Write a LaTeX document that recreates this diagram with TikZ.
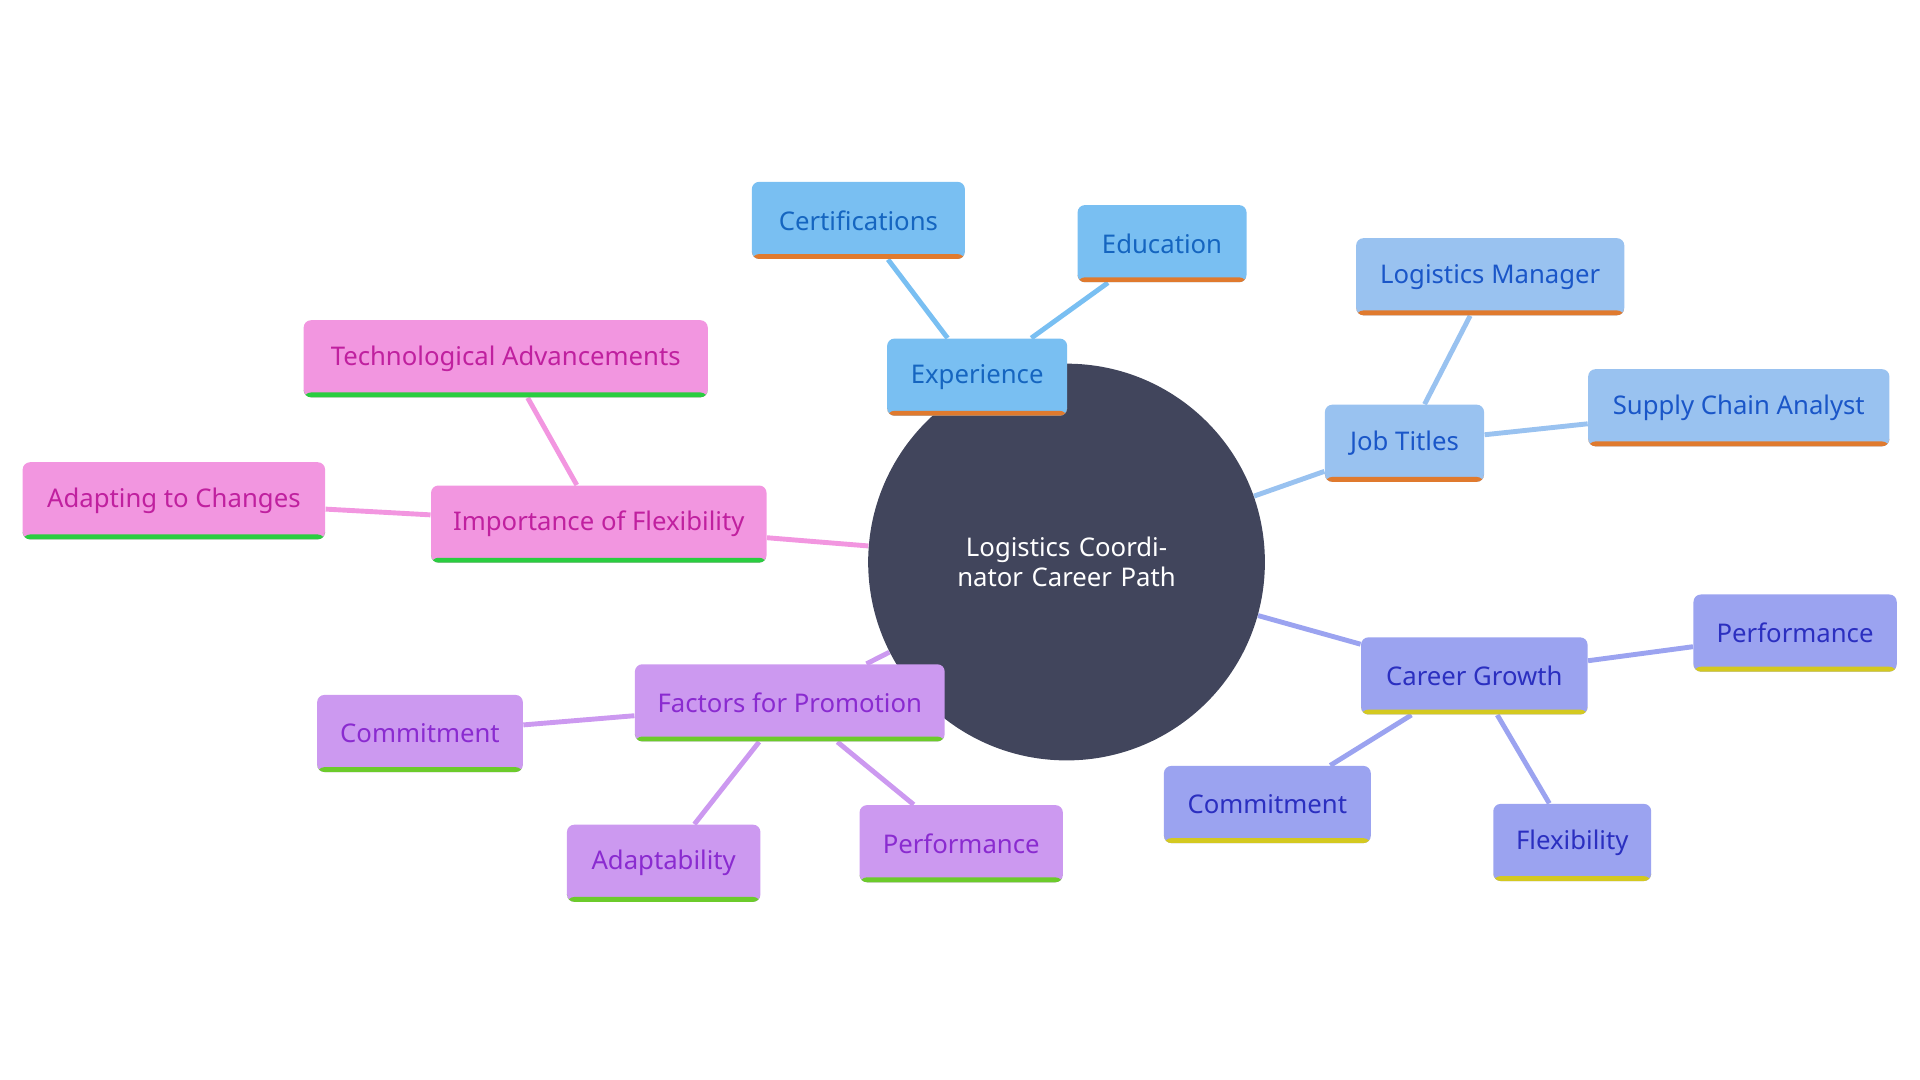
\documentclass[tikz,border=0pt]{standalone}
\usepackage{fontspec}
\setmainfont{Noto Sans}
\usetikzlibrary{backgrounds}
\definecolor{hub}{HTML}{41455C}
\definecolor{expF}{HTML}{79BFF2}\definecolor{expT}{HTML}{1565C0}
\definecolor{jobF}{HTML}{99C2F0}\definecolor{jobT}{HTML}{1A56C8}
\definecolor{carF}{HTML}{9BA3F0}\definecolor{carT}{HTML}{2B2FC0}
\definecolor{facF}{HTML}{CC99F0}\definecolor{facT}{HTML}{8A2BD0}
\definecolor{impF}{HTML}{F296E0}\definecolor{impT}{HTML}{C0209F}
\definecolor{barO}{HTML}{E07A2E}\definecolor{barY}{HTML}{D4C920}
\definecolor{barG}{HTML}{6CCB2B}\definecolor{barK}{HTML}{2ACD40}
\tikzset{
  topic/.style n args={3}{
    rectangle, rounded corners=3pt, fill=#1, text=#2, minimum height=31.5pt,
    inner sep=0pt, font=\fontsize{10.5}{12}\selectfont,
    path picture={\fill[#3] (path picture bounding box.south west) rectangle
      ([yshift=2pt]path picture bounding box.south east);}
  },
  exp/.style={topic={expF}{expT}{barO}},
  job/.style={topic={jobF}{jobT}{barO}},
  car/.style={topic={carF}{carT}{barY}},
  fac/.style={topic={facF}{facT}{barG}},
  imp/.style={topic={impF}{impT}{barK}},
  link/.style={line width=2pt}
}
\begin{document}
\begin{tikzpicture}[x=0.5pt,y=-0.5pt]
  \useasboundingbox (0,0) rectangle (1568,882);
  \node (hub) at (871,459) [circle, fill=hub, minimum size=162pt, text=white,
    text width=150pt, align=center, font=\fontsize{10.5}{12}\selectfont]
    {Logistics Coordinator Career Path};
  % experience
  \node (exp) at (798,308) [exp, minimum width=73.5pt] {Experience};
  \node (cert) at (701,180) [exp, minimum width=87pt] {Certifications};
  \node (edu) at (949,199) [exp, minimum width=69pt] {Education};
  % job titles
  \node (job) at (1147,362) [job, minimum width=65pt] {Job Titles};
  \node (mgr) at (1217,226) [job, minimum width=109.5pt] {Logistics Manager};
  \node (sca) at (1420,333) [job, minimum width=123pt] {Supply Chain Analyst};
  % career growth
  \node (car) at (1204,552) [car, minimum width=92.5pt] {Career Growth};
  \node (carperf) at (1466,517) [car, minimum width=83pt] {Performance};
  \node (carcom) at (1035,657) [car, minimum width=84.5pt] {Commitment};
  \node (carflex) at (1284,688) [car, minimum width=64.5pt] {Flexibility};
  % promotion
  \node (fac) at (645,574) [fac, minimum width=126.5pt] {Factors for Promotion};
  \node (faccom) at (343,599) [fac, minimum width=84pt] {Commitment};
  \node (facada) at (542,705) [fac, minimum width=79pt] {Adaptability};
  \node (facperf) at (785,689) [fac, minimum width=83pt] {Performance};
  % flexibility
  \node (imp) at (489,428) [imp, minimum width=137pt] {Importance of Flexibility};
  \node (tech) at (413,293) [imp, minimum width=165pt] {Technological Advancements};
  \node (adapt) at (142,409) [imp, minimum width=123.5pt] {Adapting to Changes};
  \begin{scope}[on background layer]
    \draw [link, expF] (hub) -- (exp) (exp) -- (cert) (exp) -- (edu);
    \draw [link, jobF] (hub) -- (job) (job) -- (mgr) (job) -- (sca);
    \draw [link, carF] (hub) -- (car) (car) -- (carperf) (car) -- (carcom) (car) -- (carflex);
    \draw [link, facF] (hub) -- (fac) (fac) -- (faccom) (fac) -- (facada) (fac) -- (facperf);
    \draw [link, impF] (hub) -- (imp) (imp) -- (tech) (imp) -- (adapt);
  \end{scope}
\end{tikzpicture}
\end{document}
